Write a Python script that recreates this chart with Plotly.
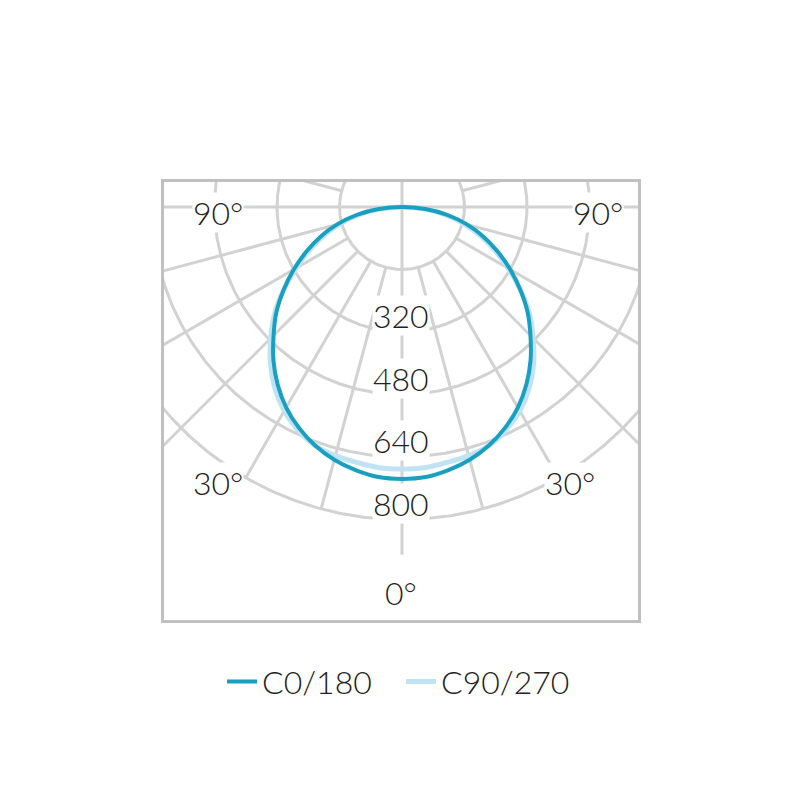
import numpy as np
import plotly.graph_objects as go

# gamma angles (deg from nadir) and luminous intensity (cd) per C-plane pair
gamma_deg = list(range(0, 95, 5))
c0_180 = [696, 694, 684, 670, 650, 624, 593, 555, 512, 465, 420, 370, 320, 270, 222, 172, 118, 60, 0]
c90_270 = [671, 670, 664, 659, 650, 630, 603, 567, 524, 475, 426, 370, 314, 262, 212, 162, 110, 55, 0]

ring_values = [160, 320, 480, 640, 800]
ring_labels = ["320", "480", "640", "800"]
angle_labels = ["90°", "90°", "30°", "30°", "0°"]
series_names = ["C0/180", "C90/270"]

GRID = "#d2d2d2"
FONT = "Lato"


def to_xy(r, deg):
    rad = np.radians(deg)
    return np.asarray(r) * np.sin(rad), -np.asarray(r) * np.cos(rad)


def full_curve(values):
    g = np.array(gamma_deg, dtype=float)
    v = np.array(values, dtype=float)
    theta = np.concatenate([-g[::-1], g[1:]])
    r = np.concatenate([v[::-1], v[1:]])
    return to_xy(r, theta)


fig = go.Figure()

# polar grid: rings
gx, gy = [], []
t = np.linspace(0, 360, 721)
for rv in ring_values:
    x, y = to_xy(np.full_like(t, rv), t)
    gx += list(x) + [None]
    gy += list(y) + [None]

# spokes every 15 deg
for a in range(0, 360, 15):
    r0 = 0 if a % 90 == 0 else ring_values[0]
    if a == 0:
        r1 = 890
    elif a in (15, 30, 330, 345):
        r1 = ring_values[-1]
    else:
        r1 = 1500
    x, y = to_xy([r0, r1], [a, a])
    gx += list(x) + [None]
    gy += list(y) + [None]

fig.add_trace(go.Scatter(x=gx, y=gy, mode="lines", line=dict(color=GRID, width=3),
                         hoverinfo="skip", showlegend=False))

# intensity curves
lx, ly = full_curve(c90_270)
fig.add_trace(go.Scatter(x=lx, y=ly, mode="lines", name=series_names[1], legendrank=2,
                         line=dict(color="#c0e3f4", width=5, shape="spline")))
dx, dy = full_curve(c0_180)
fig.add_trace(go.Scatter(x=dx, y=dy, mode="lines", name=series_names[0], legendrank=1,
                         line=dict(color="#19a0c0", width=4, shape="spline")))

# labels
annotations = []
for txt, rv in zip(ring_labels, ring_values[1:]):
    annotations.append(dict(x=-3, y=-(rv - 42), text=txt))
for txt, (ax, ay) in zip(angle_labels, [(-471, -15), (502, -15), (-471, -704), (429, -704), (-3, -988)]):
    annotations.append(dict(x=ax, y=ay, text=txt))
for a in annotations:
    a.update(xref="x", yref="y", showarrow=False, bgcolor="white", borderpad=0,
             font=dict(family=FONT, size=32, color="#222222", weight=300))

s = 312.5 / 800
fig.update_layout(
    width=800, height=800,
    margin=dict(l=156, r=170, t=174, b=188, autoexpand=False),
    paper_bgcolor="white", plot_bgcolor="white",
    xaxis=dict(range=[-238 / s, 236 / s], showgrid=False, zeroline=False, showticklabels=False,
               showline=True, mirror=True, linecolor="#c0c0c0", linewidth=3, ticks=""),
    yaxis=dict(range=[-413 / s, 25 / s], showgrid=False, zeroline=False, showticklabels=False,
               showline=True, mirror=True, linecolor="#c0c0c0", linewidth=3, ticks=""),
    annotations=annotations,
    showlegend=True,
    legend=dict(orientation="h", x=0.5, xanchor="center", y=-0.141, yanchor="middle",
                font=dict(family=FONT, size=32, color="#222222", weight=300),
                itemwidth=30, entrywidth=134),
    hovermode=False,
)

fig.write_html("out.html")
